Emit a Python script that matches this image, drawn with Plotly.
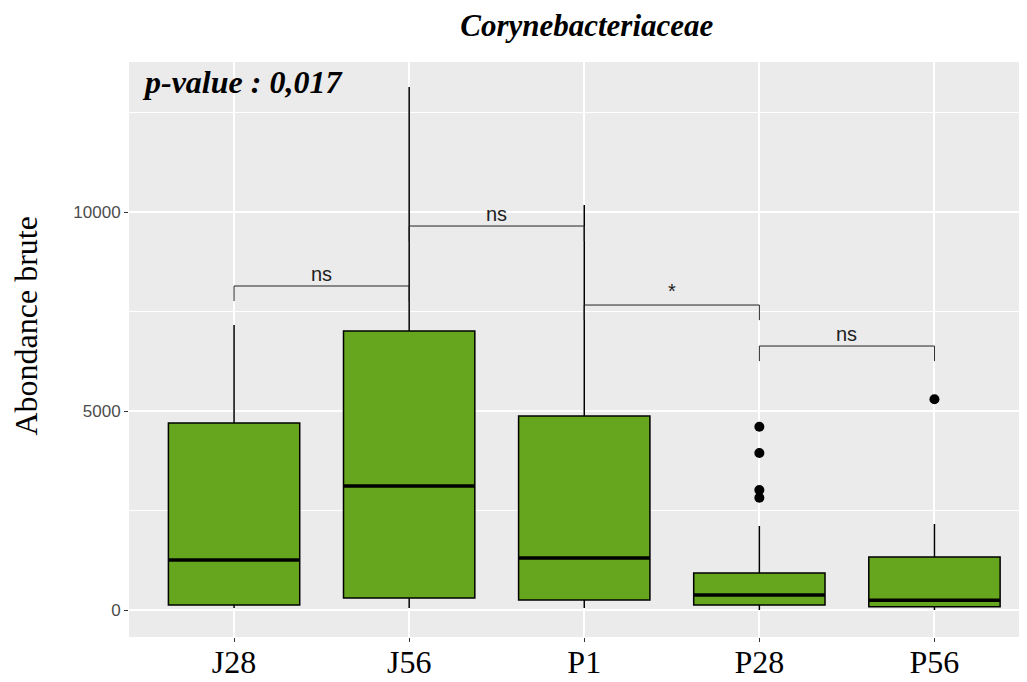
import plotly.graph_objects as go

categories = ["J28", "J56", "P1", "P28", "P56"]
lower_whisker = [50, 50, 50, 0, 0]
q1 = [126, 302, 251, 126, 84]
median = [1256, 3116, 1307, 377, 244]
q3 = [4699, 7010, 4874, 930, 1332]
upper_whisker = [7161, 13141, 10176, 2111, 2161]

outlier_cats = ["P28", "P28", "P28", "P28", "P56"]
outlier_vals = [4606, 3945, 3015, 2822, 5294]

# comparisons: (group a, group b, bracket height, label)
comp_a = ["J28", "J56", "P1", "P28"]
comp_b = ["J56", "P1", "P28", "P56"]
comp_y = [8141, 9648, 7663, 6633]
comp_label = ["ns", "ns", "*", "ns"]

y_ticks = [0, 5000, 10000]
y_minor = [2500, 7500, 12500]

fill = "#66A61E"
serif = "Liberation Serif"
sans = "Liberation Sans"

fig = go.Figure()
fig.add_trace(go.Box(
    x=categories, q1=q1, median=median, q3=q3,
    lowerfence=lower_whisker, upperfence=upper_whisker,
    fillcolor=fill, line=dict(color="black", width=1.5),
    width=0.75, whiskerwidth=0, boxpoints=False, showlegend=False,
    hoverinfo="skip",
))
fig.add_trace(go.Scatter(
    x=outlier_cats, y=outlier_vals, mode="markers",
    marker=dict(color="black", size=10), showlegend=False, hoverinfo="skip",
))

shapes = []
idx = {c: i for i, c in enumerate(categories)}
for i, c in enumerate(categories):
    shapes.append(dict(type="line", xref="x", yref="y",
                       x0=i - 0.375, x1=i + 0.375, y0=median[i], y1=median[i],
                       line=dict(color="black", width=3.5)))

tip = 380
annotations = []
for a, b, yv, lab in zip(comp_a, comp_b, comp_y, comp_label):
    xa, xb = idx[a], idx[b]
    for x0, x1, y0, y1 in [(xa, xa, yv - tip, yv), (xa, xb, yv, yv), (xb, xb, yv - tip, yv)]:
        shapes.append(dict(type="line", xref="x", yref="y", x0=x0, x1=x1, y0=y0, y1=y1,
                           line=dict(color="#222222", width=1)))
    annotations.append(dict(x=(xa + xb) / 2, y=yv, xref="x", yref="y", text=lab,
                            showarrow=False, yanchor="bottom", yshift=-1 if lab != "*" else 1,
                            font=dict(family=sans, size=20, color="#222222")))

annotations.append(dict(x=11 / 893, y=1.0, xref="paper", yref="paper", text="p-value : 0,017",
                        showarrow=False, xanchor="left", yanchor="top", yshift=0,
                        font=dict(family=serif, size=32, color="black", style="italic", weight="bold")))

annotations.append(dict(x=0, y=0.5, xref="paper", yref="paper", text="Abondance brute",
                        showarrow=False, textangle=-90, xanchor="center", yanchor="middle",
                        xshift=-104, yshift=23,
                        font=dict(family=serif, size=32, color="black")))

fig.update_layout(
    width=1019, height=674,
    margin=dict(l=121, r=5, t=54, b=45),
    paper_bgcolor="white", plot_bgcolor="#EBEBEB",
    title=dict(text="Corynebacteriaceae", x=0.568, xanchor="center", y=0.974, yanchor="middle",
               font=dict(family=serif, size=31, color="black", style="italic", weight="bold")),
    shapes=shapes, annotations=annotations,
    xaxis=dict(type="category", categoryorder="array", categoryarray=categories,
               range=[-0.6, 4.5], showgrid=True, gridcolor="white", gridwidth=1.5,
               zeroline=False, ticks="outside", ticklen=4, tickcolor="#333333",
               automargin=False, ticklabelstandoff=-7,
               tickfont=dict(family=serif, size=32, color="black")),
    yaxis=dict(range=[-678, 13769], tickvals=y_ticks, ticktext=[str(v) for v in y_ticks],
               showgrid=True, gridcolor="white", gridwidth=1.5, zeroline=False,
               ticks="outside", ticklen=4, tickcolor="#333333", automargin=False,
               tickfont=dict(family=sans, size=17, color="#4D4D4D"),
               minor=dict(tickvals=y_minor, showgrid=True, gridcolor="white", gridwidth=0.7, ticks="")),
)

fig.write_html("out.html")
